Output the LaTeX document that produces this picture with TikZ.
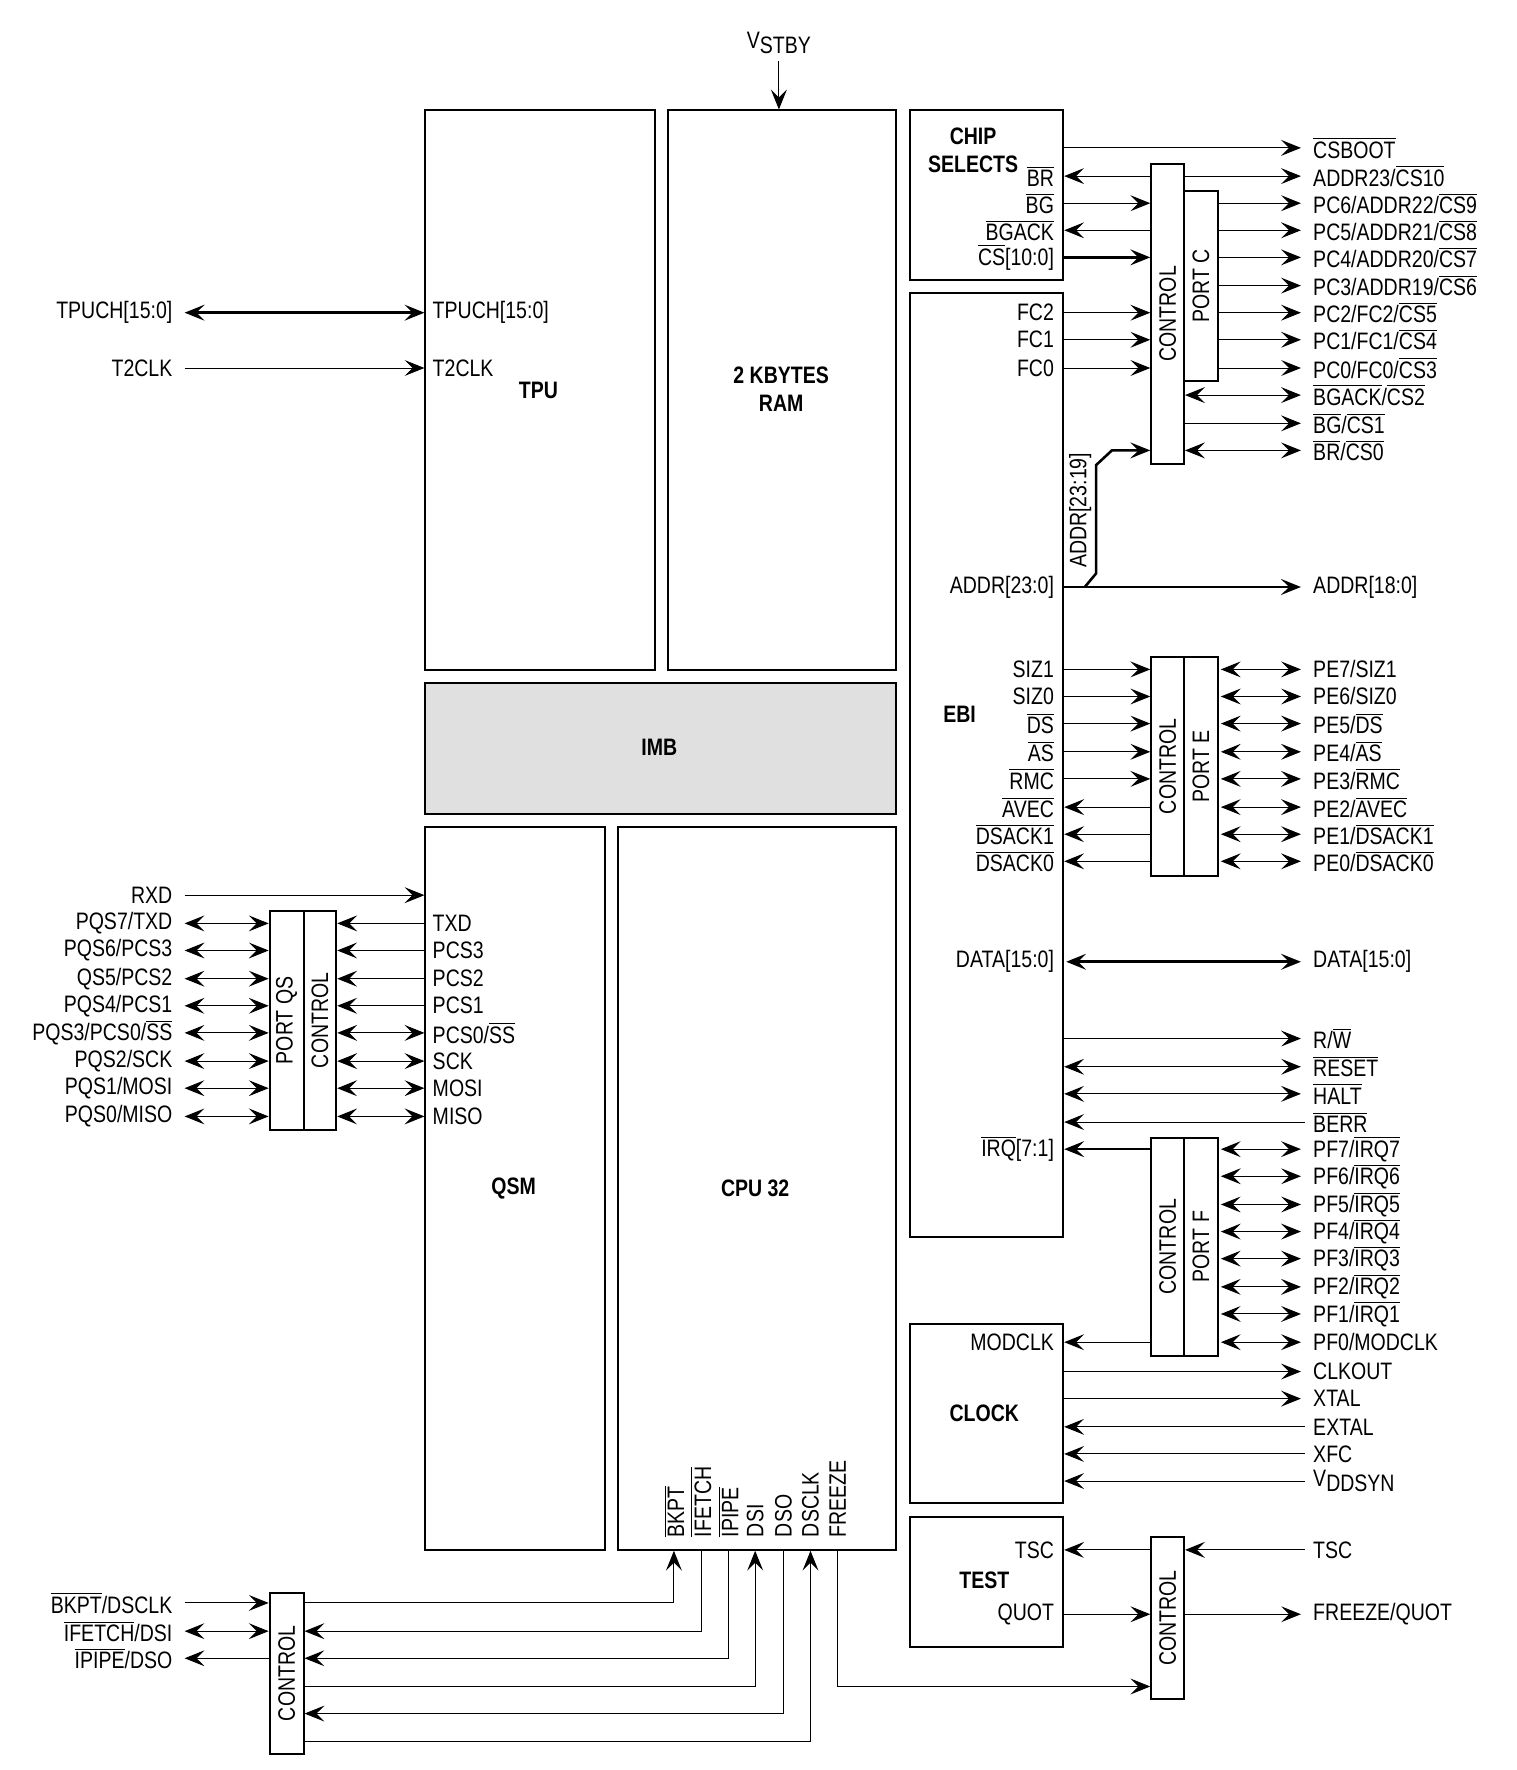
\documentclass[tikz,border=0pt]{standalone}
\usepackage{fontspec}
\setmainfont{Liberation Sans}[FakeStretch=0.82]
\usetikzlibrary{arrows.meta}
\newcommand\ol[1]{$\overline{\mbox{#1}}$}
\newcommand\lowsub[1]{\raisebox{-0.45ex}{#1}}
\begin{document}
\begin{tikzpicture}[
    x=0.02cm, y=-0.02cm,
    >={Stealth[length=10pt,width=8pt,inset=4pt]},
    every node/.style={font=\fontsize{12}{14}\selectfont},
    blk/.style={
      draw,
      line width=1pt,
      anchor=north west,
      inner sep=0pt
    },
    title/.style={
      font=\fontsize{12}{14}\selectfont\bfseries,
      align=center
    },
    rl/.style={anchor=west, inner sep=0pt},
    ll/.style={anchor=east, inner sep=0pt},
    sig/.style={line width=0.5pt},
    bus/.style={line width=1.3pt},
    vlab/.style={rotate=90, inner sep=0pt}
  ]
    \useasboundingbox (0,0) rectangle (1343,1568);

    % main blocks
    \node[blk, minimum width={203*0.02cm}, minimum height={496*0.02cm}] (tpu) at (376,97) {};
    \node[blk, minimum width={202*0.02cm}, minimum height={496*0.02cm}] (ram) at (591,97) {};
    \node[blk, fill=black!12, minimum width={417*0.02cm}, minimum height={116*0.02cm}] (imb) at (376,604) {};
    \node[blk, minimum width={159*0.02cm}, minimum height={640*0.02cm}] (qsm) at (376,732) {};
    \node[blk, minimum width={246*0.02cm}, minimum height={640*0.02cm}] (cpu) at (547,732) {};
    \node[blk, minimum width={136*0.02cm}, minimum height={150*0.02cm}] (cs) at (805,97) {};
    \node[blk, minimum width={136*0.02cm}, minimum height={836*0.02cm}] (ebi) at (805,259) {};
    \node[blk, minimum width={136*0.02cm}, minimum height={159*0.02cm}] (clk) at (805,1172) {};
    \node[blk, minimum width={136*0.02cm}, minimum height={115*0.02cm}] (tst) at (805,1343) {};

    \node[title] (tputxt) at (477,346) {TPU};
    \node[title] (ramtxt) at (692,345) {2 KBYTES\\RAM};
    \node[title] (imbtxt) at (584,662) {IMB};
    \node[title] (qsmtxt) at (455,1053) {QSM};
    \node[title] (cputxt) at (669,1053) {CPU 32};
    \node[title] (cstxt) at (862,133) {CHIP\\SELECTS};
    \node[title] (ebitxt) at (850,633) {EBI};
    \node[title] (clktxt) at (872,1252) {CLOCK};
    \node[title] (tsttxt) at (872,1400) {TEST};

    % port and control blocks
    \node[blk, minimum width={29*0.02cm}, minimum height={266*0.02cm}] (pcctl) at (1019,144) {};
    \node[blk, minimum width={30*0.02cm}, minimum height={169*0.02cm}] (pc) at (1048,168) {};
    \node[blk, minimum width={29*0.02cm}, minimum height={194*0.02cm}] (pectl) at (1019,581) {};
    \node[blk, minimum width={30*0.02cm}, minimum height={194*0.02cm}] (pe) at (1048,581) {};
    \node[blk, minimum width={29*0.02cm}, minimum height={193*0.02cm}] (pfctl) at (1019,1007) {};
    \node[blk, minimum width={30*0.02cm}, minimum height={193*0.02cm}] (pf) at (1048,1007) {};
    \node[blk, minimum width={29*0.02cm}, minimum height={143*0.02cm}] (tctl) at (1019,1361) {};
    \node[blk, minimum width={30*0.02cm}, minimum height={194*0.02cm}] (qsp) at (238,806) {};
    \node[blk, minimum width={29*0.02cm}, minimum height={194*0.02cm}] (qsctl) at (268,806) {};
    \node[blk, minimum width={30*0.02cm}, minimum height={143*0.02cm}] (bctl) at (238,1410) {};

    \node[vlab] (pcctltxt) at (pcctl) {CONTROL};
    \node[vlab] (pctxt) at (pc) {PORT C};
    \node[vlab] (pectltxt) at (pectl) {CONTROL};
    \node[vlab] (petxt) at (pe) {PORT E};
    \node[vlab] (pfctltxt) at (pfctl) {CONTROL};
    \node[vlab] (pftxt) at (pf) {PORT F};
    \node[vlab] (tctltxt) at (tctl) {CONTROL};
    \node[vlab] (qsptxt) at (qsp) {PORT QS};
    \node[vlab] (qsctltxt) at (qsctl) {CONTROL};
    \node[vlab] (bctltxt) at (bctl) {CONTROL};

    % standby supply
    \node (vstby) at (690,38) {V\lowsub{STBY}};
    \draw[sig, ->] (vstby) -- (ram.north -| vstby);

    % chip selects and port C
    \node[rl] (csboot) at (1163,131) {\ol{CSBOOT}};
    \draw[sig, ->, shorten >=6pt] (cs.east |- csboot) -- (csboot.west);
    \node[ll] (br) at (934,156) {\ol{BR}};
    \node[ll] (bg) at (934,180) {\ol{BG}};
    \node[ll] (bgack) at (934,204) {\ol{BGACK}};
    \node[ll] (csx) at (934,228) {\ol{CS}[10:0]};
    \draw[sig, <-] (cs.east |- br) -- (pcctl.west |- br);
    \draw[sig, ->] (cs.east |- bg) -- (pcctl.west |- bg);
    \draw[sig, <-] (cs.east |- bgack) -- (pcctl.west |- bgack);
    \draw[bus, ->] (cs.east |- csx) -- (pcctl.west |- csx);
    \node[rl] (a23) at (1163,156) {ADDR23/\ol{CS10}};
    \draw[sig, ->, shorten >=6pt] (pcctl.east |- a23) -- (a23.west);
    \foreach \n/\y/\t in {pc6/180/{PC6/ADDR22/\ol{CS9}}, pc5/204/{PC5/ADDR21/\ol{CS8}},
        pc4/228/{PC4/ADDR20/\ol{CS7}}, pc3/253/{PC3/ADDR19/\ol{CS6}}, pc2/277/{PC2/FC2/\ol{CS5}},
        pc1/301/{PC1/FC1/\ol{CS4}}, pc0/326/{PC0/FC0/\ol{CS3}}} {
      \node[rl] (\n) at (1163,\y) {\t};
      \draw[sig, ->, shorten >=6pt] (pc.east |- \n) -- (\n.west);
    }
    \foreach \n/\y/\t in {fc2/277/FC2, fc1/301/FC1, fc0/326/FC0} {
      \node[ll] (\n) at (934,\y) {\t};
      \draw[sig, ->] (ebi.east |- \n) -- (pcctl.west |- \n);
    }
    \node[rl] (bgackcs) at (1163,350) {\ol{BGACK}/\ol{CS2}};
    \node[rl] (bgcs) at (1163,375) {\ol{BG}/\ol{CS1}};
    \node[rl] (brcs) at (1163,399) {\ol{BR}/\ol{CS0}};
    \draw[sig, <->, shorten >=6pt] (pcctl.east |- bgackcs) -- (bgackcs.west);
    \draw[sig, ->, shorten >=6pt] (pcctl.east |- bgcs) -- (bgcs.west);
    \draw[sig, <->, shorten >=6pt] (pcctl.east |- brcs) -- (brcs.west);

    % address bus
    \node[ll] (addr) at (934,520) {ADDR[23:0]};
    \node[rl] (addrr) at (1163,520) {ADDR[18:0]};
    \draw[bus, ->, shorten >=6pt] (ebi.east |- addr) -- (addrr.west);
    \coordinate (addrtap) at (961,520);
    \draw[bus, ->] (addrtap) -- (971,508) -- (971,412) -- (985,399) -- (pcctl.west |- brcs);
    \node[vlab] (addrhi) at (957,452) {ADDR[23:19]};

    % EBI and port E
    \foreach \n/\y/\t in {siz1/593/SIZ1, siz0/617/SIZ0, ds/641/\ol{DS}, as/666/\ol{AS}, rmc/690/\ol{RMC}} {
      \node[ll] (\n) at (934,\y) {\t};
      \draw[sig, ->] (ebi.east |- \n) -- (pectl.west |- \n);
    }
    \foreach \n/\y/\t in {avec/715/\ol{AVEC}, dsack1/739/\ol{DSACK1}, dsack0/763/\ol{DSACK0}} {
      \node[ll] (\n) at (934,\y) {\t};
      \draw[sig, <-] (ebi.east |- \n) -- (pectl.west |- \n);
    }
    \foreach \n/\y/\t in {pe7/593/{PE7/SIZ1}, pe6/617/{PE6/SIZ0}, pe5/641/{PE5/\ol{DS}}, pe4/666/{PE4/\ol{AS}},
        pe3/690/{PE3/\ol{RMC}}, pe2/715/{PE2/\ol{AVEC}}, pe1/739/{PE1/\ol{DSACK1}}, pe0/763/{PE0/\ol{DSACK0}}} {
      \node[rl] (\n) at (1163,\y) {\t};
      \draw[sig, <->, shorten >=6pt, shorten <=1pt] (pe.east |- \n) -- (\n.west);
    }

    % data bus and bus control
    \node[ll] (data) at (934,852) {DATA[15:0]};
    \node[rl] (datar) at (1163,852) {DATA[15:0]};
    \draw[bus, <->, shorten >=6pt, shorten <=1pt] (ebi.east |- data) -- (datar.west);
    \node[rl] (rw) at (1163,920) {R/\ol{W}};
    \node[rl] (reset) at (1163,945) {\ol{RESET}};
    \node[rl] (halt) at (1163,969) {\ol{HALT}};
    \node[rl] (berr) at (1163,994) {\ol{BERR}};
    \draw[sig, ->, shorten >=6pt] (ebi.east |- rw) -- (rw.west);
    \draw[sig, <->, shorten >=6pt] (ebi.east |- reset) -- (reset.west);
    \draw[sig, <->, shorten >=6pt] (ebi.east |- halt) -- (halt.west);
    \draw[sig, <-, shorten <=0pt, shorten >=4pt] (ebi.east |- berr) -- (berr.west);

    % port F
    \node[ll] (irq) at (934,1018) {\ol{IRQ}[7:1]};
    \draw[bus, <-] (ebi.east |- irq) -- (pfctl.west |- irq);
    \foreach \n/\y/\t in {pf7/1018/{PF7/\ol{IRQ7}}, pf6/1042/{PF6/\ol{IRQ6}}, pf5/1067/{PF5/\ol{IRQ5}},
        pf4/1091/{PF4/\ol{IRQ4}}, pf3/1115/{PF3/\ol{IRQ3}}, pf2/1140/{PF2/\ol{IRQ2}},
        pf1/1164/{PF1/\ol{IRQ1}}, pf0/1189/{PF0/MODCLK}} {
      \node[rl] (\n) at (1163,\y) {\t};
      \draw[sig, <->, shorten >=6pt, shorten <=1pt] (pf.east |- \n) -- (\n.west);
    }

    % clock
    \node[ll] (modclk) at (934,1189) {MODCLK};
    \draw[sig, <-] (clk.east |- modclk) -- (pfctl.west |- modclk);
    \node[rl] (clkout) at (1163,1215) {CLKOUT};
    \node[rl] (xtal) at (1163,1239) {XTAL};
    \node[rl] (extal) at (1163,1264) {EXTAL};
    \node[rl] (xfc) at (1163,1288) {XFC};
    \node[rl] (vddsyn) at (1163,1312) {V\lowsub{DDSYN}};
    \draw[sig, ->, shorten >=6pt] (clk.east |- clkout) -- (clkout.west);
    \draw[sig, ->, shorten >=6pt] (clk.east |- xtal) -- (xtal.west);
    \draw[sig, <-, shorten >=4pt] (clk.east |- extal) -- (extal.west);
    \draw[sig, <-, shorten >=4pt] (clk.east |- xfc) -- (xfc.west);
    \draw[sig, <-, shorten >=4pt] (clk.east |- vddsyn) -- (vddsyn.west);

    % test
    \node[ll] (tsc) at (934,1373) {TSC};
    \node[ll] (quot) at (934,1430) {QUOT};
    \node[rl] (tscr) at (1163,1373) {TSC};
    \node[rl] (fquot) at (1163,1430) {FREEZE/QUOT};
    \draw[sig, <-] (tctl.east |- tscr) -- ([xshift=-4pt]tscr.west);
    \draw[sig, <-] (tst.east |- tsc) -- (tctl.west |- tsc);
    \draw[sig, ->] (tst.east |- quot) -- (tctl.west |- quot);
    \draw[sig, ->, shorten >=6pt] (tctl.east |- fquot) -- (fquot.west);

    % TPU
    \node[ll] (tpuch) at (153,277) {TPUCH[15:0]};
    \node[rl] (tpuchi) at (383,277) {TPUCH[15:0]};
    \node[ll] (t2clk) at (153,326) {T2CLK};
    \node[rl] (t2clki) at (383,326) {T2CLK};
    \draw[bus, <->, shorten <=6pt] (tpuch.east) -- (tpu.west |- tpuch);
    \draw[sig, ->, shorten <=6pt] (t2clk.east) -- (tpu.west |- t2clk);

    % QSM
    \node[ll] (rxd) at (153,793) {RXD};
    \draw[sig, ->, shorten <=6pt] (rxd.east) -- (qsm.west |- rxd);
    \foreach \n/\y/\t in {pqs7/818/{PQS7/TXD}, pqs6/842/{PQS6/PCS3}, pqs5/867/{QS5/PCS2}, pqs4/891/{PQS4/PCS1},
        pqs3/915/{PQS3/PCS0/\ol{SS}}, pqs2/940/{PQS2/SCK}, pqs1/964/{PQS1/MOSI}, pqs0/989/{PQS0/MISO}} {
      \node[ll] (\n) at (153,\y) {\t};
      \draw[sig, <->, shorten <=6pt] (\n.east) -- (qsp.west |- \n);
    }
    \foreach \n/\y/\t in {txd/818/TXD, pcs3/842/PCS3, pcs2/867/PCS2, pcs1/891/PCS1} {
      \node[rl] (\n) at (383,\y) {\t};
      \draw[sig, <-] (qsctl.east |- \n) -- (qsm.west |- \n);
    }
    \foreach \n/\y/\t in {pcs0/915/{PCS0/\ol{SS}}, sck/940/SCK, mosi/964/MOSI, miso/989/MISO} {
      \node[rl] (\n) at (383,\y) {\t};
      \draw[sig, <->] (qsctl.east |- \n) -- (qsm.west |- \n);
    }

    % background debug
    \foreach \n/\x/\t in {bkpt/597/\ol{BKPT}, ifetch/621/\ol{IFETCH}, ipipe/645/\ol{IPIPE}, dsi/669/DSI,
        dso/694/DSO, dsclk/718/DSCLK, freeze/742/FREEZE} {
      \node[vlab, anchor=west] (\n) at (\x,1362) {\t};
    }
    \draw[sig, ->] (bctl.east |- 0,1420) -| (bkpt.west |- cpu.south);
    \draw[sig, ->] (ifetch.west |- cpu.south) |- (bctl.east |- 0,1445);
    \draw[sig, ->] (ipipe.west |- cpu.south) |- (bctl.east |- 0,1469);
    \draw[sig, ->] (bctl.east |- 0,1494) -| (dsi.west |- cpu.south);
    \draw[sig, ->] (dso.west |- cpu.south) |- (bctl.east |- 0,1518);
    \draw[sig, ->] (bctl.east |- 0,1543) -| (dsclk.west |- cpu.south);
    \draw[sig, ->] (freeze.west |- cpu.south) |- (tctl.west |- 0,1494);
    \node[ll] (bkdsclk) at (153,1420) {\ol{BKPT}/DSCLK};
    \node[ll] (ifdsi) at (153,1445) {\ol{IFETCH}/DSI};
    \node[ll] (ipdso) at (153,1469) {\ol{IPIPE}/DSO};
    \draw[sig, ->, shorten <=6pt] (bkdsclk.east) -- (bctl.west |- bkdsclk);
    \draw[sig, <->, shorten <=6pt] (ifdsi.east) -- (bctl.west |- ifdsi);
    \draw[sig, <-, shorten <=6pt] (ipdso.east) -- (bctl.west |- ipdso);
  \end{tikzpicture}
\end{document}
